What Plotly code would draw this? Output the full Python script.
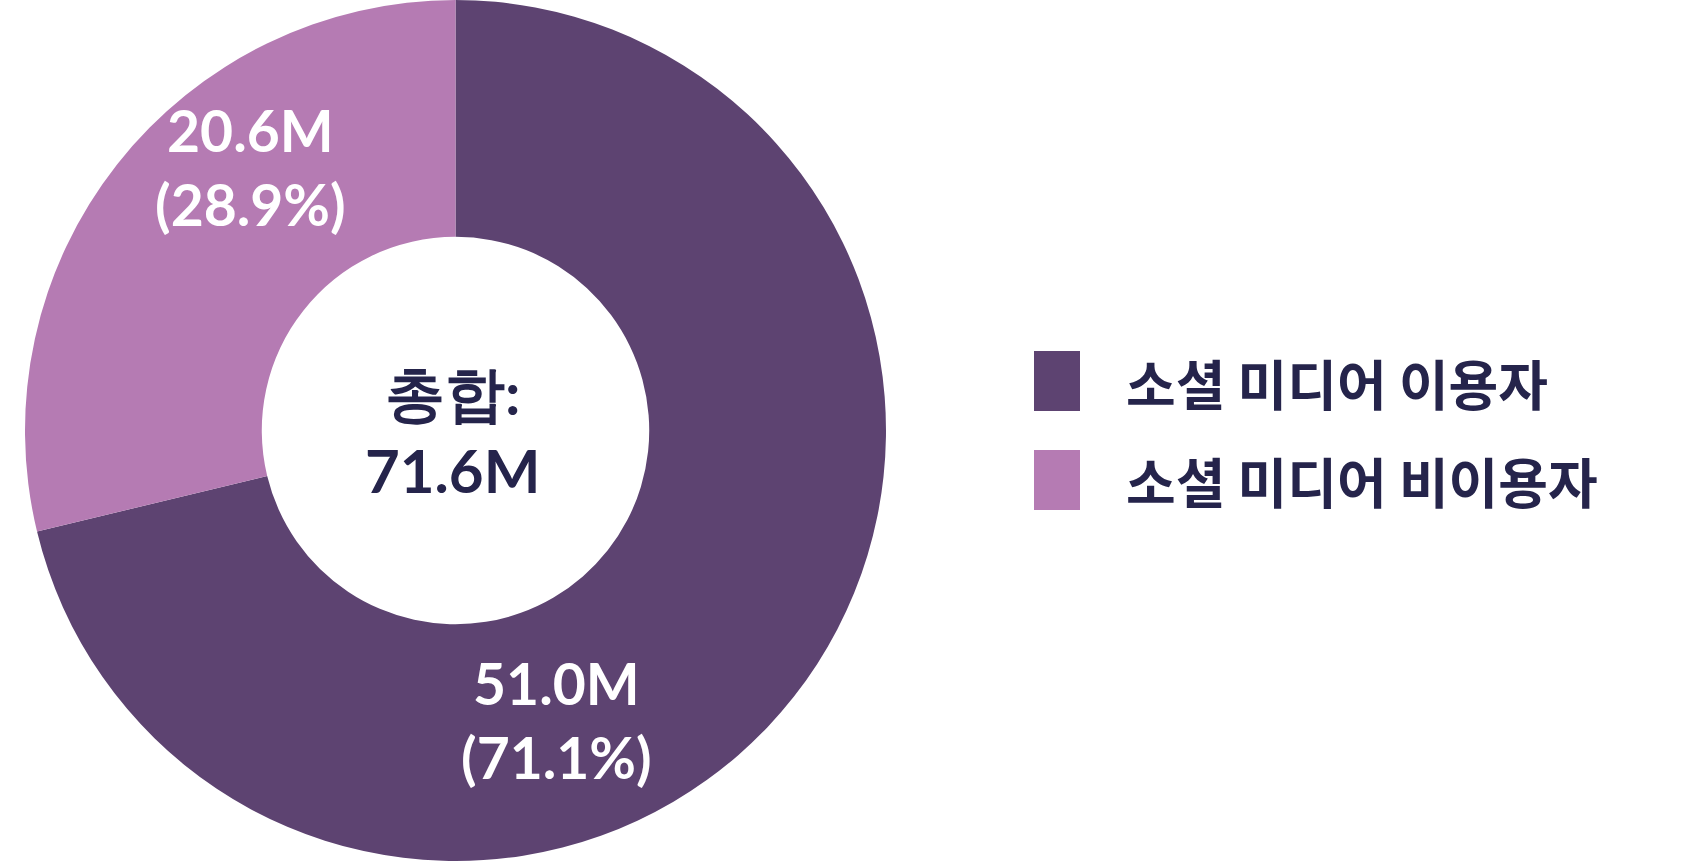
import plotly.graph_objects as go

# ---- data ----
categories = ["소셜 미디어 이용자", "소셜 미디어 비이용자"]
values_m = [51.0, 20.6]
percent_labels = ["71.1%", "28.9%"]
total_label = "총합:"
total_value = 71.6
colors = ["#5D4371", "#B57BB3"]

W, H = 1704, 861
TEXT_DARK = "#25244B"
NUM_FONT = "Lato"
KR_FONT = "Noto Sans CJK KR"


def bold_lines(*lines):
    return "<br>".join(f"<b>{s}</b>" for s in lines)


fig = go.Figure()
fig.add_trace(go.Pie(
    labels=categories,
    values=values_m,
    hole=0.45,
    sort=False,
    direction="clockwise",
    rotation=0,
    marker=dict(colors=colors, line=dict(width=0)),
    textinfo="none",
    hoverinfo="label+value+percent",
    showlegend=False,
    domain=dict(x=[0, 911 / W], y=[0, 1]),
))

# slice labels (text built from data)
label_pos = [(556, 720), (250, 167)]
annotations = []
for v, p, (px, py) in zip(values_m, percent_labels, label_pos):
    annotations.append(dict(
        text=bold_lines(f"{v:.1f}M", f"({p})"), x=px / W, y=1 - py / H,
        xref="paper", yref="paper", xanchor="center", yanchor="middle",
        showarrow=False, align="center",
        font=dict(family=NUM_FONT, size=57, color="white", weight=900),
    ))

# center total
annotations.append(dict(
    text=bold_lines(total_label, f"{total_value:.1f}M"), x=452 / W, y=1 - 431 / H,
    xref="paper", yref="paper", xanchor="center", yanchor="middle",
    showarrow=False, align="center",
    font=dict(family=NUM_FONT, size=60, color=TEXT_DARK, weight=900),
))

# custom legend
shapes = []
row_y = [381, 480]
for cat, col, cy in zip(categories, colors, row_y):
    shapes.append(dict(type="rect", xref="paper", yref="paper",
                       x0=1034 / W, x1=1080 / W,
                       y0=1 - (cy + 30) / H, y1=1 - (cy - 30) / H,
                       fillcolor=col, line=dict(width=0)))
    annotations.append(dict(
        text=bold_lines(cat), x=1124 / W, y=1 - (cy + 1) / H,
        xref="paper", yref="paper", xanchor="left", yanchor="middle",
        showarrow=False,
        font=dict(family=KR_FONT, size=54, color=TEXT_DARK, weight=700),
    ))

fig.update_layout(
    width=W, height=H,
    margin=dict(l=0, r=0, t=0, b=0),
    paper_bgcolor="white", plot_bgcolor="white",
    annotations=annotations, shapes=shapes,
    showlegend=False,
)

fig.write_html("out.html", post_script="document.body.style.margin='0';",
               config={"displayModeBar": False})
